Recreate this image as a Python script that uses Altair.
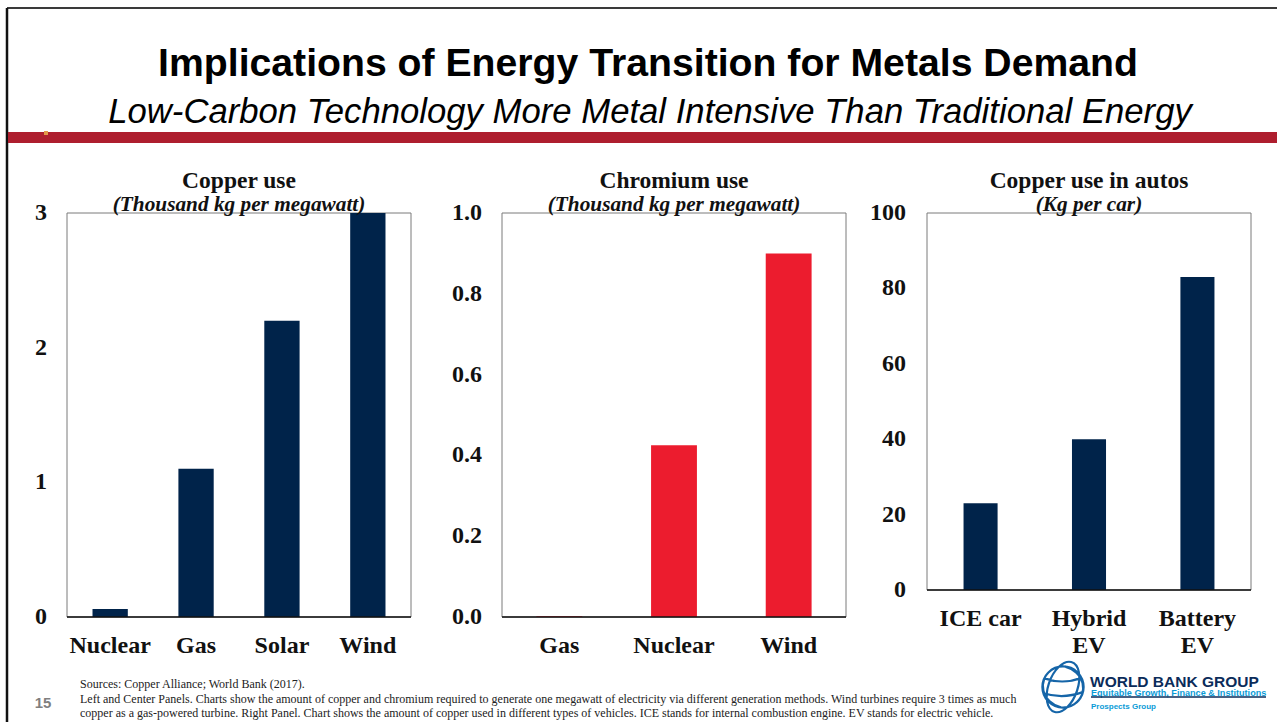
import altair as alt
import pandas as pd

W, H = 1277, 722

# Copper needed per megawatt of generating capacity (thousand kg)
power_sources = ["Nuclear", "Gas", "Solar", "Wind"]
copper_per_mw = [0.06, 1.1, 2.2, 3.0]
copper_ticks = [0, 1, 2, 3]

# Chromium needed per megawatt of generating capacity (thousand kg)
chromium_sources = ["Gas", "Nuclear", "Wind"]
chromium_per_mw = [0.002, 0.425, 0.9]
chromium_ticks = [0.0, 0.2, 0.4, 0.6, 0.8, 1.0]

# Copper used per vehicle (kg)
vehicle_types = ["ICE car", "Hybrid EV", "Battery EV"]
vehicle_labels = ["ICE car", "Hybrid\nEV", "Battery\nEV"]
copper_per_car = [23, 40, 83]
auto_ticks = [0, 20, 40, 60, 80, 100]

NAVY = "#00234A"
RED = "#EC1C2E"
BAND = "#AE1E2E"
SERIF = "Liberation Serif"
SANS = "Liberation Sans"

one = pd.DataFrame({"k": [0]})


def text(t, x, y, size, **kw):
    return alt.Chart(pd.DataFrame({"t": [t]})).mark_text(fontSize=size, **kw).encode(
        x=alt.value(x), y=alt.value(y), text="t:N"
    )


def panel(cats, labels, vals, ticks, fmt, color, box, pad_in, pad_out,
          title, unit, label_gap=20):
    left, right, top, bottom = box
    df = pd.DataFrame({"cat": cats, "label": labels, "value": vals})
    tick_df = pd.DataFrame({"tick": ticks, "txt": [fmt.format(t) for t in ticks]})
    xs = alt.Scale(domain=cats, range=[left, right],
                   paddingInner=pad_in, paddingOuter=pad_out)
    ys = alt.Scale(domain=[ticks[0], ticks[-1]], range=[bottom, top],
                   nice=False, zero=True)
    X = alt.X("cat:N", scale=xs, axis=None, sort=cats)

    frame = alt.Chart(one).mark_rect(fillOpacity=0, stroke="#7a7a7a", strokeWidth=1).encode(
        x=alt.value(left), x2=alt.value(right), y=alt.value(top), y2=alt.value(bottom)
    )
    bars = alt.Chart(df).mark_bar(color=color).encode(
        x=X, y=alt.Y("value:Q", scale=ys, axis=None)
    )
    baseline = alt.Chart(one).mark_rule(color="#111111", strokeWidth=1.5).encode(
        x=alt.value(left), x2=alt.value(right), y=alt.value(bottom)
    )
    tick_labels = alt.Chart(tick_df).mark_text(
        font=SERIF, fontWeight="bold", fontSize=24, align="right",
        baseline="middle", color="#111111"
    ).encode(x=alt.value(left - label_gap), y=alt.Y("tick:Q", scale=ys, axis=None), text="txt:N")
    n_lines = max(l.count("\n") for l in labels) + 1
    cat_labels = alt.Chart(df).mark_text(
        font=SERIF, fontWeight="bold", fontSize=24, align="center",
        baseline="alphabetic", lineBreak="\n", lineHeight=27, color="#111111"
    ).encode(x=X, y=alt.value(653 - 27 * (n_lines - 1)), text="label:N")
    cx = (left + right) / 2
    head = text(title, cx, 181, 23.5, font=SERIF, fontWeight="bold", color="#111111")
    sub = text(unit, cx, 205, 21.3, font=SERIF, fontWeight="bold",
               fontStyle="italic", color="#111111")
    return alt.layer(frame, bars, baseline, tick_labels, cat_labels, head, sub)


p1 = panel(power_sources, power_sources, copper_per_mw, copper_ticks, "{:g}", NAVY,
           (67, 411, 213, 617), 0.589, 0.297,
           "Copper use", "(Thousand kg per megawatt)")
p2 = panel(chromium_sources, chromium_sources, chromium_per_mw, chromium_ticks, "{:.1f}", RED,
           (502, 846, 213, 617), 0.6, 0.3,
           "Chromium use", "(Thousand kg per megawatt)")
p3 = panel(vehicle_types, vehicle_labels, copper_per_car, auto_ticks, "{:g}", NAVY,
           (927, 1251, 213, 590), 0.686, 0.337,
           "Copper use in autos", "(Kg per car)", label_gap=21)

# Slide frame, header and red divider
top_border = alt.Chart(one).mark_rule(color="#3a3a3a", strokeWidth=2).encode(
    x=alt.value(7), x2=alt.value(W), y=alt.value(8))
left_border = alt.Chart(one).mark_rule(color="#111111", strokeWidth=2.5).encode(
    x=alt.value(7), y=alt.value(8), y2=alt.value(H))
red_band = alt.Chart(one).mark_rect(color=BAND).encode(
    x=alt.value(8), x2=alt.value(W), y=alt.value(132), y2=alt.value(143))
blip = alt.Chart(one).mark_rect(color="#E39A4A").encode(
    x=alt.value(44), x2=alt.value(48), y=alt.value(131), y2=alt.value(135))

title = text("Implications of Energy Transition for Metals Demand", 648, 64, 39.2,
             font=SANS, fontWeight="bold", color="#000000")
subtitle = text("Low-Carbon Technology More Metal Intensive Than Traditional Energy", 650, 113, 34.7,
                font=SANS, fontStyle="italic", color="#000000")

# Footer: page number, sources and notes
page_no = text("15", 43, 703, 15, font=SANS, fontWeight="bold", color="#7f7f7f")
notes = [
    "Sources: Copper Alliance; World Bank (2017).",
    "Left and Center Panels. Charts show the amount of copper and chromium required to generate one megawatt of electricity via different generation methods. Wind turbines require 3 times as much",
    "copper as a gas-powered turbine. Right Panel. Chart shows the amount of copper used in different types of vehicles. ICE stands for internal combustion engine. EV stands for electric vehicle.",
]
note_layers = [
    text(n, 80, 684 + 14.5 * i, 12, font=SERIF, align="left", color="#222222")
    for i, n in enumerate(notes)
]

# Institutional logo
GLOBE = ("M-1,0A1,1,0,1,1,1,0A1,1,0,1,1,-1,0Z"
         "M-0.2,-0.98A0.55,1,20,0,0,0.2,0.98"
         "M-0.2,-0.98A0.55,1,20,0,1,0.2,0.98"
         "M-0.55,-0.83A1.1,1,20,0,0,-0.1,0.99"
         "M0.55,0.83A1.1,1,20,0,0,0.1,-0.99"
         "M-0.9,-0.42Q0,-0.1,0.9,-0.45"
         "M-0.95,0.3Q0,0.6,0.95,0.25")
globe = alt.Chart(one).mark_point(shape=GLOBE, filled=False, color="#1565A8",
                                  strokeWidth=2.2, size=1700, opacity=1).encode(
    x=alt.value(1063), y=alt.value(687))
wbg = text("WORLD BANK GROUP", 1090, 682, 15.5, font=SANS, fontWeight="bold",
           align="left", color="#0B2C5A")
egfi = text("Equitable Growth, Finance & Institutions", 1091, 693, 9.1, font=SANS,
            fontWeight="bold", align="left", color="#0A9BD7")
rule_logo = alt.Chart(one).mark_rule(color="#0B2C5A", strokeWidth=1.5).encode(
    x=alt.value(1091), x2=alt.value(1266), y=alt.value(697))
prospects = text("Prospects Group", 1091, 707, 8, font=SANS, fontWeight="bold",
                 align="left", color="#0A9BD7")

chart = alt.layer(
    top_border, left_border, red_band, blip, title, subtitle,
    p1, p2, p3,
    page_no, *note_layers, globe, wbg, egfi, rule_logo, prospects,
).resolve_scale(x="independent", y="independent").properties(
    width=W, height=H, padding=0, background="white",
    autosize=alt.AutoSizeParams(type="none"),
).configure_view(stroke=None)

chart.save("out.html", embed_options={"renderer": "svg", "actions": False})
